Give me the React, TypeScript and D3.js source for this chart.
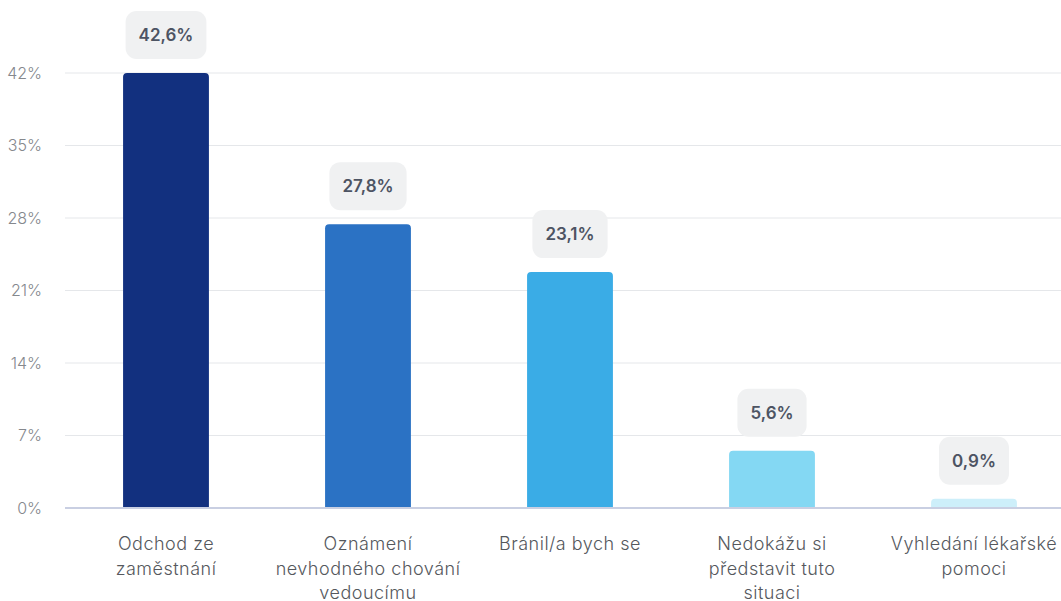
import * as d3 from "d3";
import { useRef, useEffect } from "react";

const categories = [
  "Odchod ze\nzaměstnání",
  "Oznámení\nnevhodného chování\nvedoucímu",
  "Bránil/a bych se",
  "Nedokážu si\npředstavit tuto\nsituaci",
  "Vyhledání lékařské\npomoci",
];
const values = [42.6, 27.8, 23.1, 5.6, 0.9];
const valueLabels = ["42,6%", "27,8%", "23,1%", "5,6%", "0,9%"];
const barColors = ["#12307f", "#2b72c4", "#3aace6", "#84d8f3", "#cdeffa"];
const tickLabels = ["0%", "7%", "14%", "21%", "28%", "35%", "42%"];

export default function App() {
  const svgRef = useRef(null);

  useEffect(() => {
    const width = 1061;
    const height = 601;
    const left = 65;
    const top = 73;
    const bottom = 508;
    const font = "Inter, 'Noto Sans', sans-serif";

    const svg = d3.select(svgRef.current).attr("width", width).attr("height", height);
    svg.selectAll("*").remove();

    const yMax = d3.max(values) as number;
    const y = d3.scaleLinear().domain([0, yMax]).range([bottom, top]);
    const x = d3
      .scaleBand()
      .domain(categories)
      .range([left, left + 202 * categories.length])
      .paddingInner(0.575)
      .paddingOuter(0.2875);

    const tickVals = tickLabels.map((_, i) => (yMax / (tickLabels.length - 1)) * i);

    // grid
    svg
      .append("g")
      .selectAll("line")
      .data(tickVals.slice(1))
      .enter()
      .append("line")
      .attr("x1", left)
      .attr("x2", width)
      .attr("y1", (d) => y(d))
      .attr("y2", (d) => y(d))
      .attr("stroke", "#e5e7ea")
      .attr("stroke-width", 1);

    svg
      .append("g")
      .selectAll("text")
      .data(tickVals)
      .enter()
      .append("text")
      .attr("x", 42)
      .attr("y", (d) => y(d))
      .attr("dy", "0.35em")
      .attr("text-anchor", "end")
      .attr("font-family", font)
      .attr("font-size", 16)
      .attr("font-weight", 300)
      .attr("fill", "#85888d")
      .text((_, i) => tickLabels[i]);

    const bw = x.bandwidth();
    const r = 4;

    // bars with rounded top corners
    svg
      .append("g")
      .selectAll("path")
      .data(values)
      .enter()
      .append("path")
      .attr("d", (d, i) => {
        const x0 = x(categories[i]) as number;
        const y0 = y(d);
        const h = bottom - y0;
        const rr = Math.min(r, h);
        return `M${x0},${bottom} V${y0 + rr} Q${x0},${y0} ${x0 + rr},${y0} H${x0 + bw - rr} Q${x0 + bw},${y0} ${x0 + bw},${y0 + rr} V${bottom} Z`;
      })
      .attr("fill", (_, i) => barColors[i]);

    // baseline
    svg
      .append("line")
      .attr("x1", left)
      .attr("x2", width)
      .attr("y1", bottom)
      .attr("y2", bottom)
      .attr("stroke", "#c9cfe2")
      .attr("stroke-width", 2);

    // value labels
    const lbl = svg
      .append("g")
      .selectAll("g")
      .data(values)
      .enter()
      .append("g")
      .attr("transform", (d, i) => `translate(${(x(categories[i]) as number) + bw / 2},${y(d) - 14})`);

    lbl.each(function (_, i) {
      const g = d3.select(this);
      const t = g
        .append("text")
        .attr("x", 0)
        .attr("y", -24)
        .attr("dy", "0.35em")
        .attr("text-anchor", "middle")
        .attr("font-family", font)
        .attr("font-size", 17)
        .attr("font-weight", 600)
        .attr("fill", "#4d5463")
        .text(valueLabels[i]);
      const w = (t.node() as SVGTextElement).getComputedTextLength() + 26;
      g.insert("rect", "text")
        .attr("x", -w / 2)
        .attr("y", -48)
        .attr("width", w)
        .attr("height", 48)
        .attr("rx", 11)
        .attr("fill", "#f0f1f2");
    });

    // category labels
    svg
      .append("g")
      .selectAll("text")
      .data(categories)
      .enter()
      .append("text")
      .attr("x", (d) => (x(d) as number) + bw / 2)
      .attr("y", 544)
      .attr("text-anchor", "middle")
      .attr("font-family", font)
      .attr("font-size", 18)
      .attr("font-weight", 300)
      .attr("letter-spacing", 0.5)
      .attr("fill", "#55585d")
      .each(function (d) {
        const t = d3.select(this);
        d.split("\n").forEach((line, j) => {
          t.append("tspan")
            .attr("x", t.attr("x"))
            .attr("dy", j === 0 ? "0.35em" : 24.5)
            .text(line);
        });
      });
  }, []);

  return (
    <div style={{ position: "absolute", left: 0, top: 0 }}>
      <svg ref={svgRef} style={{ display: "block" }} />
    </div>
  );
}
